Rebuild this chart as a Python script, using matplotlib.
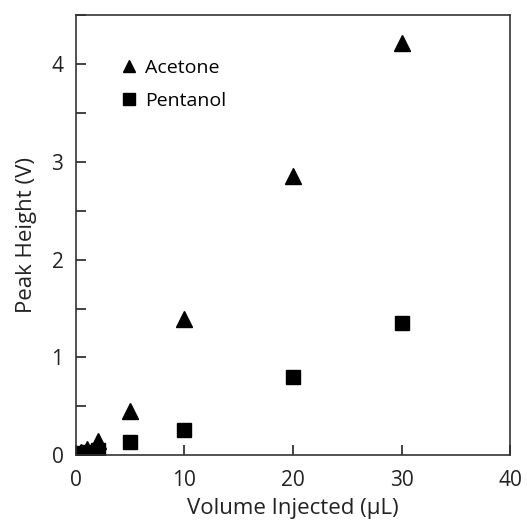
# peak height vs injected volume
import matplotlib
matplotlib.use('Agg')
import matplotlib.pyplot as plt
from matplotlib.ticker import MultipleLocator

plt.rcParams['font.family'] = ['Open Sans', 'DejaVu Sans']

acetone_x = [0.5, 1, 2, 5, 10, 20, 30]
acetone_y = [0.03, 0.06, 0.15, 0.45, 1.39, 2.86, 4.22]
pentanol_x = [0.5, 1, 2, 5, 10, 20, 30]
pentanol_y = [0.02, 0.03, 0.05, 0.13, 0.26, 0.80, 1.35]

fig = plt.figure(figsize=(5.27, 5.22), dpi=100)
ax = fig.add_axes([0.144, 0.128, 0.824, 0.843])

ax.plot(acetone_x, acetone_y, linestyle='none', marker='^', markersize=11,
        color='black', label='Acetone')
ax.plot(pentanol_x, pentanol_y, linestyle='none', marker='s', markersize=9.5,
        color='black', label='Pentanol')

ax.set_xlim(0, 40)
ax.set_ylim(0, 4.5)
ax.xaxis.set_major_locator(MultipleLocator(10))
ax.yaxis.set_major_locator(MultipleLocator(1))
ax.yaxis.set_minor_locator(MultipleLocator(0.5))
ax.tick_params(which='both', direction='in', labelsize=15, colors='#222222')
ax.tick_params(which='major', length=7, width=1.2)
ax.tick_params(which='minor', length=7, width=1.2)
ax.tick_params(axis='x', pad=11)
ax.tick_params(axis='y', pad=9)
for sp in ax.spines.values():
    sp.set_linewidth(1.2)
    sp.set_color('#333333')

ax.set_xlabel('Volume Injected (µL)', fontsize=16, color='#222222', labelpad=5)
ax.set_ylabel('Peak Height (V)', fontsize=16, color='#222222', labelpad=10)

ax.legend(loc='upper left', bbox_to_anchor=(0.06, 0.94), frameon=False,
          fontsize=14, handletextpad=0.3, labelspacing=0.75, handlelength=1.0,
          markerscale=0.85)

plt.savefig('out.png', dpi=100)
